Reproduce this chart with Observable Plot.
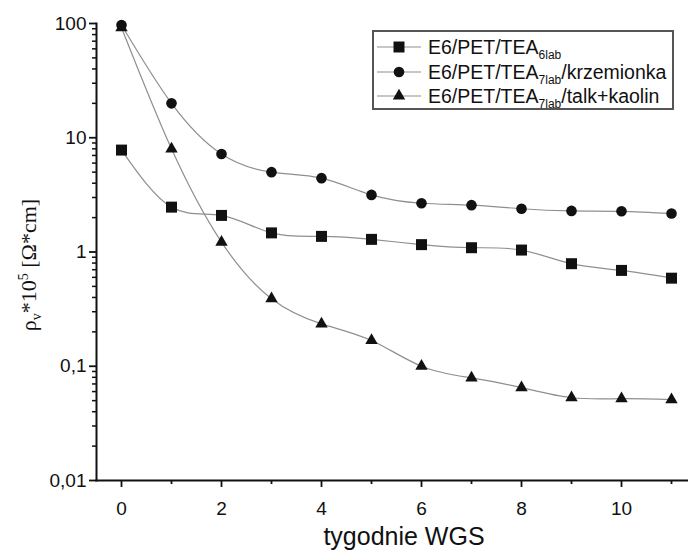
<!DOCTYPE html>
<html>
<head>
<meta charset="utf-8">
<script src="https://cdn.jsdelivr.net/npm/d3@7"></script>
<script src="https://cdn.jsdelivr.net/npm/@observablehq/plot@0.6"></script>
<style>
  html, body { margin: 0; padding: 0; background: #fff; }
  #chart { width: 688px; height: 552px; }
</style>
</head>
<body>
<div id="chart"></div>
<script>
// ---- data ----
const weeks = [0, 1, 2, 3, 4, 5, 6, 7, 8, 9, 10, 11];
const e6lab = [7.8, 2.47, 2.09, 1.47, 1.37, 1.29, 1.16, 1.09, 1.04, 0.79, 0.69, 0.59];
const krzemionka = [97, 20, 7.2, 5.0, 4.43, 3.16, 2.67, 2.57, 2.39, 2.29, 2.27, 2.17];
const talkKaolin = [92, 8.0, 1.22, 0.39, 0.235, 0.168, 0.10, 0.079, 0.065, 0.053, 0.052, 0.051];

const seriesBase = ["E6/PET/TEA", "E6/PET/TEA", "E6/PET/TEA"];
const seriesSub = ["6lab", "7lab", "7lab"];
const seriesSuffix = ["", "/krzemionka", "/talk+kaolin"];
const seriesSymbols = ["square", "circle", "triangle"];
const seriesR = [6.2, 5.3, 4.6];

const xMajorTicks = [0, 2, 4, 6, 8, 10];
const xMinorTicks = [1, 3, 5, 7, 9, 11];
const yMajorTicks = [0.01, 0.1, 1, 10, 100];
const yMinorTicks = [];
for (const d of [0.01, 0.1, 1, 10]) for (let k = 2; k <= 9; k++) yMinorTicks.push(+(d * k).toPrecision(3));

const xLabel = "tygodnie WGS";

// ---- table ----
const allSeries = [e6lab, krzemionka, talkKaolin];
const rows = [];
allSeries.forEach((vals, si) => {
  vals.forEach((v, i) => rows.push({series: si, week: weeks[i], value: v}));
});

const fontSans = "'Liberation Sans', Arial, sans-serif";
const fontSerif = "'Liberation Serif', 'Times New Roman', serif";

const plot = Plot.plot({
  width: 688,
  height: 552,
  marginLeft: 96,
  marginRight: 0,
  marginTop: 23,
  marginBottom: 72,
  style: {fontFamily: fontSans, fontSize: "19px", color: "#111", background: "#fff"},
  x: {domain: [-0.5, 11.34]},
  y: {type: "log", domain: [0.01, 100]},
  marks: [
    Plot.line(rows, {x: "week", y: "value", z: "series", curve: "natural", stroke: "#8f8f8f", strokeWidth: 1.2}),
    ...seriesSymbols.map((sym, si) =>
      Plot.dot(rows.filter(d => d.series === si), {x: "week", y: "value", symbol: sym, r: seriesR[si], fill: "#111", stroke: "none"})
    ),
    Plot.axisY({ticks: yMinorTicks, tickSize: 4, text: null, strokeWidth: 1.5, stroke: "#111", label: null}),
    Plot.axisY({ticks: yMajorTicks, tickSize: 7, tickPadding: 3, strokeWidth: 1.8, stroke: "#111",
      tickFormat: d => String(d).replace(".", ","), fontSize: 19, label: null}),
    Plot.axisX({ticks: xMinorTicks, tickSize: 4, text: null, strokeWidth: 1.8, stroke: "#111", label: null}),
    Plot.axisX({ticks: xMajorTicks, tickSize: 7, tickPadding: 14, strokeWidth: 1.8, stroke: "#111", fontSize: 19, label: null}),
    Plot.frame({anchor: "left", stroke: "#111", strokeWidth: 2}),
    Plot.frame({anchor: "bottom", stroke: "#111", strokeWidth: 2})
  ]
});

document.getElementById("chart").appendChild(plot);

// ---- annotations: axis titles and legend ----
const svg = d3.select(plot);

svg.append("text")
  .attr("x", 404).attr("y", 545)
  .attr("text-anchor", "middle")
  .style("font-family", fontSans).style("font-size", "25px").attr("fill", "#111")
  .text(xLabel);

const yl = svg.append("text")
  .attr("transform", "translate(36,265) rotate(-90)")
  .attr("text-anchor", "middle")
  .style("font-family", fontSerif).style("font-size", "22px").attr("fill", "#111");
yl.append("tspan").text("ρ");
yl.append("tspan").attr("dy", 5).style("font-size", "14px").text("v");
yl.append("tspan").attr("dy", -5).text("*10");
yl.append("tspan").attr("dy", -8).style("font-size", "14px").text("5");
yl.append("tspan").attr("dy", 8).text(" [Ω*cm]");

const lg = svg.append("g");
lg.append("rect").attr("x", 373).attr("y", 31).attr("width", 300).attr("height", 78)
  .attr("fill", "#fff").attr("stroke", "#555").attr("stroke-width", 2);
const rowY = [47, 72, 96];
const symbolPaths = {square: d3.symbolSquare, circle: d3.symbolCircle, triangle: d3.symbolTriangle};
seriesBase.forEach((base, i) => {
  const cy = rowY[i];
  lg.append("line").attr("x1", 377).attr("x2", 421).attr("y1", cy).attr("y2", cy)
    .attr("stroke", "#8f8f8f").attr("stroke-width", 1.2);
  lg.append("path")
    .attr("d", d3.symbol(symbolPaths[seriesSymbols[i]], Math.PI * seriesR[i] * seriesR[i])())
    .attr("transform", `translate(399,${cy})`).attr("fill", "#111");
  const t = lg.append("text").attr("x", 428).attr("y", cy + 7)
    .attr("text-anchor", "start")
    .style("font-family", fontSans).style("font-size", "19.5px").attr("fill", "#111");
  t.append("tspan").text(base);
  t.append("tspan").attr("dy", 5).style("font-size", "12px").text(seriesSub[i]);
  if (seriesSuffix[i]) t.append("tspan").attr("dy", -5).text(seriesSuffix[i]);
});
</script>
</body>
</html>
